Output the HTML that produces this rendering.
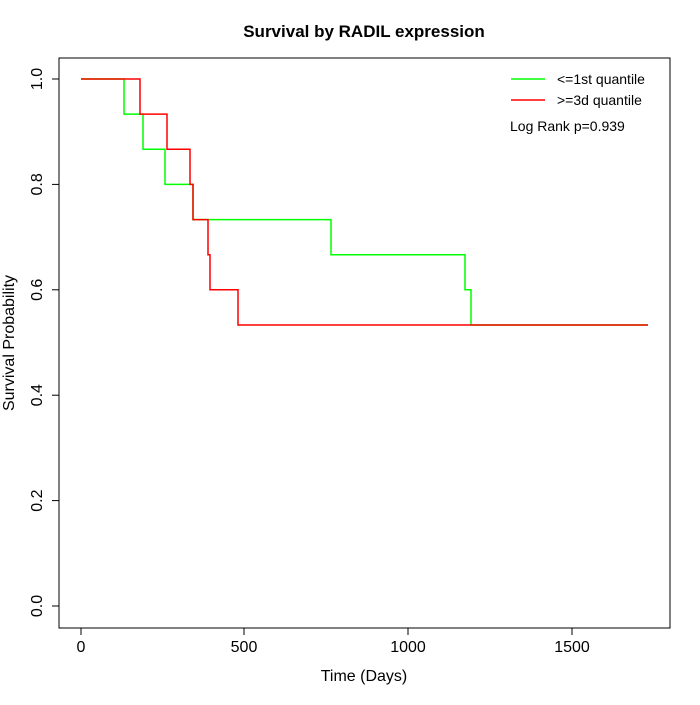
<!DOCTYPE html>
<html><head><meta charset="utf-8"><style>body{margin:0;background:#fff}</style></head><body>
<svg width="700" height="700" xmlns="http://www.w3.org/2000/svg" font-family="Liberation Sans, sans-serif">
<rect width="700" height="700" fill="#fff"/>
<text x="364" y="37" font-size="17" font-weight="bold" text-anchor="middle">Survival by RADIL expression</text>
<rect x="59" y="58" width="611" height="570" fill="none" stroke="#000"/>
<g stroke="#000" fill="none">
<line x1="81" y1="628" x2="572" y2="628"/>
<line x1="81" y1="628" x2="81" y2="635"/><line x1="244" y1="628" x2="244" y2="635"/><line x1="408" y1="628" x2="408" y2="635"/><line x1="572" y1="628" x2="572" y2="635"/>
<line x1="59" y1="79" x2="59" y2="606"/>
<line x1="52" y1="79" x2="59" y2="79"/><line x1="52" y1="184.4" x2="59" y2="184.4"/><line x1="52" y1="289.8" x2="59" y2="289.8"/><line x1="52" y1="395.2" x2="59" y2="395.2"/><line x1="52" y1="500.6" x2="59" y2="500.6"/><line x1="52" y1="606" x2="59" y2="606"/>
</g>
<g font-size="16" text-anchor="middle">
<text x="81" y="652">0</text><text x="244" y="652">500</text><text x="408" y="652">1000</text><text x="572" y="652">1500</text>
<text x="364" y="681">Time (Days)</text>
</g>
<g font-size="16" text-anchor="middle">
<text transform="translate(42,79) rotate(-90)">1.0</text>
<text transform="translate(42,184.4) rotate(-90)">0.8</text>
<text transform="translate(42,289.8) rotate(-90)">0.6</text>
<text transform="translate(42,395.2) rotate(-90)">0.4</text>
<text transform="translate(42,500.6) rotate(-90)">0.2</text>
<text transform="translate(42,606) rotate(-90)">0.0</text>
<text transform="translate(14,343) rotate(-90)">Survival Probability</text>
</g>
<polyline fill="none" stroke="#00ff00" stroke-width="1.5" points="81,79 124,79 124,114.1 143,114.1 143,149.3 165,149.3 165,184.4 193,184.4 193,219.6 331,219.6 331,254.7 465,254.7 465,289.8 471,289.8 471,325 648,325"/>
<polyline fill="none" stroke="#ff0000" stroke-width="1.5" points="81,79 140,79 140,114.1 167,114.1 167,149.3 190,149.3 190,184.4 193,184.4 193,219.6 208,219.6 208,254.7 210,254.7 210,289.8 238,289.8 238,325 648,325"/>
<line x1="511" y1="79" x2="545" y2="79" stroke="#00ff00" stroke-width="1.5"/>
<line x1="511" y1="100" x2="545" y2="100" stroke="#ff0000" stroke-width="1.5"/>
<g font-size="14"><text x="557" y="84">&lt;=1st quantile</text><text x="557" y="105">&gt;=3d quantile</text><text x="510" y="131">Log Rank p=0.939</text></g>
</svg>
</body></html>
